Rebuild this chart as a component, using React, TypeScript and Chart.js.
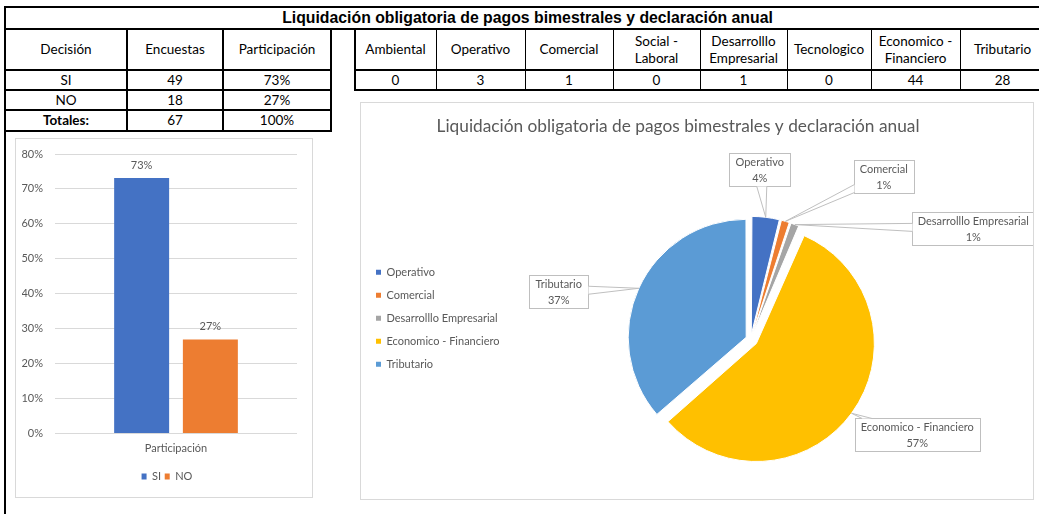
import React, { useEffect, useRef } from 'react';
import { Chart, registerables } from 'chart.js';

Chart.register(...registerables);

// ---------------- data ----------------
const MAIN_TITLE = 'Liquidación obligatoria de pagos bimestrales y declaración anual';

const decisionHeaders = ['Decisión', 'Encuestas', 'Participación'];
const decisionLabels = ['SI', 'NO'];
const surveyCounts = [49, 18];
const participationPct = ['73%', '27%'];
const totalsRow = ['Totales:', '67', '100%'];

const areaHeaders = [
  'Ambiental',
  'Operativo',
  'Comercial',
  'Social -\nLaboral',
  'Desarrolllo\nEmpresarial',
  'Tecnologico',
  'Economico -\nFinanciero',
  'Tributario',
];
const areaCounts = [0, 3, 1, 0, 1, 0, 44, 28];

const barCategories = ['Participación'];
const barSeries = ['SI', 'NO'];
const barValues = [0.731, 0.269];
const barValueLabels = ['73%', '27%'];

const pieCategories = ['Operativo', 'Comercial', 'Desarrolllo Empresarial', 'Economico - Financiero', 'Tributario'];
const pieValues = [3, 1, 1, 44, 28];
const piePercentLabels = ['4%', '1%', '1%', '57%', '37%'];

// ---------------- styles ----------------
const FONT = 'Lato, "Open Sans", sans-serif';
const GRAY_TEXT = '#595959';
const GRID = '#d9d9d9';
const BAR_COLORS = ['#4472C4', '#ED7D31'];
const PIE_COLORS = ['#4472C4', '#ED7D31', '#A5A5A5', '#FFC000', '#5B9BD5'];
const PIE_OFFSETS = [20, 20, 20, 28, 20];
const PIE_RADIUS = 118;
// callout box centres relative to the pie centre (same order as pieCategories)
const CALLOUT_OFFSETS: [number, number][] = [
  [9, -170],
  [133, -163],
  [222.5, -110.5],
  [166.5, 95.5],
  [-192, -48],
];

Chart.defaults.font.family = FONT;

const leftCols = [5, 127, 223, 331];
const leftRows = [29, 70, 90, 110, 131];
const rightCols = [355, 436, 525, 613, 700, 787, 871, 960, 1045];
const rightRows = [29, 70, 90];

// ---------------- plugins ----------------
const barLabelPlugin = {
  id: 'barLabels',
  afterDatasetsDraw(chart: any) {
    const ctx = chart.ctx;
    ctx.save();
    ctx.font = `11px ${FONT}`;
    ctx.fillStyle = GRAY_TEXT;
    ctx.textAlign = 'center';
    ctx.textBaseline = 'middle';
    chart.data.datasets.forEach((_: any, di: number) => {
      const meta = chart.getDatasetMeta(di);
      meta.data.forEach((bar: any) => {
        ctx.fillText(barValueLabels[di], bar.x, bar.y - 13);
      });
    });
    ctx.restore();
  },
};

const pieDecorPlugin = {
  id: 'pieDecor',
  beforeDatasetsDraw(chart: any) {
    const meta = chart.getDatasetMeta(0);
    meta.data.forEach((arc: any) => {
      const off = (arc.options.offset || 0) / 4;
      const circ = arc.circumference || arc.endAngle - arc.startAngle;
      const fix = 1 - Math.sin(Math.min(Math.PI, circ || 0));
      arc.$origR = arc.outerRadius;
      arc.outerRadius = arc.outerRadius - off * fix;
    });
  },
  afterDatasetsDraw(chart: any) {
    const meta = chart.getDatasetMeta(0);
    const ctx = chart.ctx;
    meta.data.forEach((arc: any) => {
      if (arc.$origR !== undefined) arc.outerRadius = arc.$origR;
    });
    ctx.save();
    ctx.font = `11px ${FONT}`;
    meta.data.forEach((arc: any, i: number) => {
      const mid = (arc.startAngle + arc.endAngle) / 2;
      const shift = (arc.options.offset || 0) / 4;
      const r = arc.outerRadius + shift;
      const ax = arc.x + Math.cos(mid) * r;
      const ay = arc.y + Math.sin(mid) * r;
      const [ox, oy] = CALLOUT_OFFSETS[i];
      const cx = arc.x + ox;
      const cy = arc.y + oy;
      const lines = [pieCategories[i], piePercentLabels[i]];
      const w = Math.round(Math.max(...lines.map((l) => ctx.measureText(l).width)) + 12);
      const h = 33;
      const bx = Math.round(cx - w / 2) + 0.5;
      const by = Math.round(cy - h / 2) + 0.5;
      ctx.fillStyle = '#ffffff';
      ctx.strokeStyle = '#bfbfbf';
      ctx.lineWidth = 1;
      ctx.fillRect(bx, by, w, h);
      ctx.strokeRect(bx, by, w, h);
      const dx = ax - cx;
      const dy = ay - cy;
      const tx = Math.abs(dx) > 0 ? w / 2 / Math.abs(dx) : Infinity;
      const ty = Math.abs(dy) > 0 ? h / 2 / Math.abs(dy) : Infinity;
      let b1: [number, number];
      let b2: [number, number];
      if (tx < ty) {
        const ex = dx > 0 ? bx + w : bx;
        const py = Math.min(Math.max(cy + dy * tx, by + 5), by + h - 5);
        b1 = [ex, py - 4];
        b2 = [ex, py + 4];
      } else {
        const ey = dy > 0 ? by + h : by;
        const px = Math.min(Math.max(cx + dx * ty, bx + 6), bx + w - 6);
        b1 = [px - 5, ey];
        b2 = [px + 5, ey];
      }
      ctx.beginPath();
      ctx.moveTo(b1[0], b1[1]);
      ctx.lineTo(ax, ay);
      ctx.lineTo(b2[0], b2[1]);
      ctx.closePath();
      ctx.fillStyle = '#ffffff';
      ctx.fill();
      ctx.beginPath();
      ctx.moveTo(b1[0], b1[1]);
      ctx.lineTo(ax, ay);
      ctx.lineTo(b2[0], b2[1]);
      ctx.stroke();
      ctx.fillStyle = GRAY_TEXT;
      ctx.textAlign = 'center';
      ctx.textBaseline = 'middle';
      ctx.fillText(lines[0], cx, by + h / 2 - 7.5);
      ctx.fillText(lines[1], cx, by + h / 2 + 8);
    });
    ctx.restore();
  },
};

// ---------------- charts ----------------
function BarChart() {
  const ref = useRef<HTMLCanvasElement>(null);
  useEffect(() => {
    const chart = new Chart(ref.current as HTMLCanvasElement, {
      type: 'bar',
      data: {
        labels: barCategories,
        datasets: barSeries.map((name, i) => ({
          label: name,
          data: [barValues[i]],
          backgroundColor: BAR_COLORS[i],
          barPercentage: 0.8,
          categoryPercentage: 0.568,
          yAxisID: 'y',
        })),
      },
      options: {
        animation: false,
        responsive: false,
        maintainAspectRatio: false,
        layout: { padding: { left: 6, right: 0, top: 15, bottom: 5 } },
        scales: {
          x: {
            grid: { display: false, drawTicks: false },
            border: { display: false },
            ticks: { color: GRAY_TEXT, font: { size: 11 }, padding: 8 },
            afterFit: (s: any) => {
              s.height = 34;
            },
          },
          y: {
            min: 0,
            max: 0.8,
            ticks: {
              stepSize: 0.1,
              color: GRAY_TEXT,
              font: { size: 11 },
              padding: 12,
              callback: (v: any) => Math.round(Number(v) * 100) + '%',
            },
            grid: { color: GRID, drawTicks: false },
            border: { display: false },
            afterFit: (s: any) => {
              s.width = 33;
              s.paddingTop = 0;
            },
          },
          yRight: {
            position: 'right',
            display: true,
            grid: { display: false, drawTicks: false },
            border: { display: false },
            ticks: { display: false },
            afterFit: (s: any) => {
              s.width = 15;
              s.paddingTop = 0;
            },
          },
        },
        plugins: {
          legend: {
            position: 'bottom',
            labels: { boxWidth: 5, boxHeight: 6, padding: 3.6, color: GRAY_TEXT, font: { size: 11 } },
          },
          tooltip: { enabled: false },
        },
      } as any,
      plugins: [barLabelPlugin],
    });
    return () => chart.destroy();
  }, []);
  return <canvas ref={ref} width={296} height={358} style={{ display: 'block', width: 296, height: 358 }} />;
}

function PieChart() {
  const ref = useRef<HTMLCanvasElement>(null);
  useEffect(() => {
    const ov: any = (Chart as any).overrides;
    const baseGen =
      (ov.pie && ov.pie.plugins && ov.pie.plugins.legend && ov.pie.plugins.legend.labels.generateLabels) ||
      ov.doughnut.plugins.legend.labels.generateLabels;
    const chart = new Chart(ref.current as HTMLCanvasElement, {
      type: 'pie',
      data: {
        labels: pieCategories,
        datasets: [
          {
            data: pieValues,
            backgroundColor: PIE_COLORS,
            borderColor: '#ffffff',
            borderWidth: 1,
            offset: PIE_OFFSETS,
            radius: PIE_RADIUS,
            clip: false,
          } as any,
        ],
      },
      options: {
        animation: false,
        responsive: false,
        maintainAspectRatio: false,
        layout: { padding: { left: 3, right: 41, top: 0, bottom: 75 } },
        plugins: {
          title: {
            display: true,
            text: MAIN_TITLE,
            color: GRAY_TEXT,
            font: { size: 17.3, weight: 'normal' },
            padding: { top: 13, bottom: 118 },
          },
          legend: {
            position: 'left',
            align: 'start',
            fullSize: false,
            labels: {
              boxWidth: 5,
              boxHeight: 5,
              padding: 12,
              color: GRAY_TEXT,
              font: { size: 11 },
              generateLabels: (c: any) => baseGen(c).map((l: any) => ({ ...l, lineWidth: 0 })),
            },
          },
          tooltip: { enabled: false },
        },
      } as any,
      plugins: [pieDecorPlugin],
    });
    return () => chart.destroy();
  }, []);
  return <canvas ref={ref} width={672} height={396} style={{ display: 'block', width: 672, height: 396 }} />;
}

// ---------------- page ----------------
function Line({ x, y, w, h }: { x: number; y: number; w: number; h: number }) {
  return <div style={{ position: 'absolute', left: x, top: y, width: w, height: h, background: '#000' }} />;
}

function Cell({
  x1,
  x2,
  y1,
  y2,
  text,
  bold,
}: {
  x1: number;
  x2: number;
  y1: number;
  y2: number;
  text: string;
  bold?: boolean;
}) {
  return (
    <div
      style={{
        position: 'absolute',
        left: x1,
        top: y1,
        width: x2 - x1,
        height: y2 - y1,
        display: 'flex',
        alignItems: 'center',
        justifyContent: 'center',
        textAlign: 'center',
        whiteSpace: 'pre-line',
        lineHeight: '17px',
        fontSize: 13.5,
        fontWeight: bold ? 700 : 400,
        color: '#000',
      }}
    >
      {text}
    </div>
  );
}

export default function App() {
  useEffect(() => {
    document.body.style.margin = '0';
  }, []);

  const leftBody: string[][] = decisionLabels.map((d, i) => [d, String(surveyCounts[i]), participationPct[i]]);

  return (
    <div
      style={{
        position: 'absolute',
        left: 0,
        top: 0,
        width: 1039,
        height: 514,
        overflow: 'hidden',
        background: '#fff',
        fontFamily: FONT,
      }}
    >
      <div
        style={{
          position: 'absolute',
          left: 5,
          top: 8,
          width: 1045,
          height: 20,
          display: 'flex',
          alignItems: 'center',
          justifyContent: 'center',
          fontFamily: '"Liberation Sans", Arial, sans-serif',
          fontWeight: 700,
          fontSize: 15.8,
          color: '#000',
          whiteSpace: 'nowrap',
        }}
      >
        {MAIN_TITLE}
      </div>

      {decisionHeaders.map((h, i) => (
        <Cell key={'lh' + i} x1={leftCols[i]} x2={leftCols[i + 1]} y1={leftRows[0]} y2={leftRows[1]} text={h} />
      ))}
      {leftBody.map((row, r) =>
        row.map((t, c) => (
          <Cell key={'lb' + r + c} x1={leftCols[c]} x2={leftCols[c + 1]} y1={leftRows[r + 1]} y2={leftRows[r + 2]} text={t} />
        ))
      )}
      {totalsRow.map((t, c) => (
        <Cell key={'lt' + c} x1={leftCols[c]} x2={leftCols[c + 1]} y1={leftRows[3]} y2={leftRows[4]} text={t} bold={c === 0} />
      ))}

      {areaHeaders.map((h, i) => (
        <Cell key={'rh' + i} x1={rightCols[i]} x2={rightCols[i + 1]} y1={rightRows[0]} y2={rightRows[1]} text={h} />
      ))}
      {areaCounts.map((v, i) => (
        <Cell key={'rv' + i} x1={rightCols[i]} x2={rightCols[i + 1]} y1={rightRows[1]} y2={rightRows[2]} text={String(v)} />
      ))}

      <Line x={4} y={6} w={1035} h={2} />
      <Line x={4} y={6} w={2} h={508} />
      <Line x={4} y={28} w={1035} h={2} />
      {leftRows.slice(1).map((y) => (
        <Line key={'lr' + y} x={4} y={y - 1} w={328} h={2} />
      ))}
      {leftCols.slice(1).map((x) => (
        <Line key={'lc' + x} x={x - 1} y={28} w={2} h={104} />
      ))}
      <Line x={354} y={28} w={2} h={63} />
      {rightRows.slice(1).map((y) => (
        <Line key={'rr' + y} x={354} y={y - 1} w={685} h={2} />
      ))}
      {rightCols.slice(1, -1).map((x) => (
        <Line key={'rc' + x} x={x} y={28} w={1} h={62} />
      ))}

      <div
        style={{
          position: 'absolute',
          left: 15,
          top: 138,
          width: 298,
          height: 360,
          border: '1px solid #d9d9d9',
          boxSizing: 'border-box',
          background: '#fff',
        }}
      >
        <BarChart />
      </div>

      <div
        style={{
          position: 'absolute',
          left: 360,
          top: 102,
          width: 674,
          height: 398,
          border: '1px solid #d9d9d9',
          boxSizing: 'border-box',
          background: '#fff',
        }}
      >
        <PieChart />
      </div>
    </div>
  );
}
